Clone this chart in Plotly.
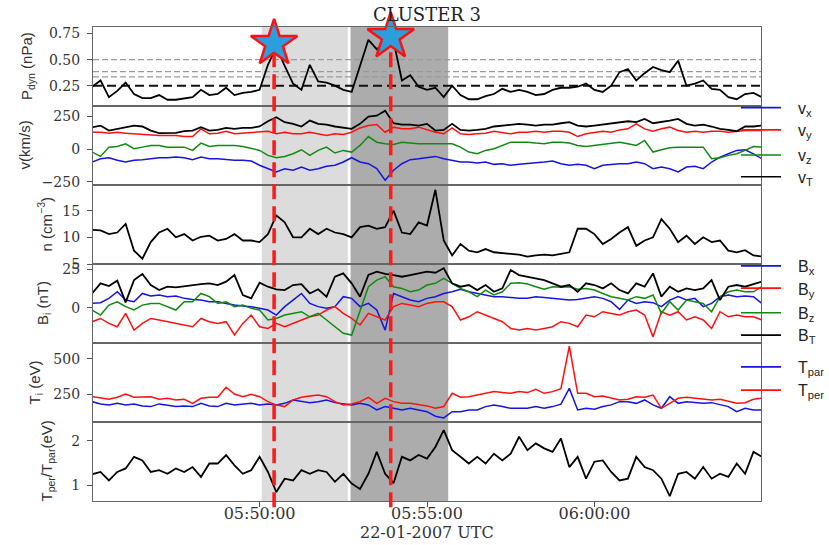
import pandas as pd
import plotly.graph_objects as go
from plotly.subplots import make_subplots

# ---------------- data (15 s samples from 05:45:00) ----------------
t = pd.date_range("2007-01-22 05:45:00", periods=81, freq="15s")

pdyn = [0.24, 0.30, 0.14, 0.20, 0.28, 0.17, 0.13, 0.13, 0.16, 0.115, 0.115, 0.13, 0.14, 0.21, 0.16, 0.17,
        0.23, 0.16, 0.18, 0.19, 0.21, 0.45, 0.62, 0.44, 0.27, 0.21, 0.45, 0.29, 0.28, 0.25, 0.21, 0.19,
        0.45, 0.69, 0.60, 0.66, 0.68, 0.30, 0.35, 0.24, 0.21, 0.23, 0.14, 0.25, 0.16, 0.12, 0.12, 0.15,
        0.17, 0.22, 0.19, 0.21, 0.19, 0.16, 0.17, 0.21, 0.23, 0.23, 0.24, 0.27, 0.21, 0.19, 0.25, 0.38,
        0.41, 0.30, 0.37, 0.43, 0.40, 0.38, 0.49, 0.25, 0.27, 0.30, 0.22, 0.21, 0.14, 0.12, 0.17, 0.18, 0.14]

vx = [-99, -74, -66, -86, -99, -86, -81, -74, -66, -66, -61, -66, -81, -61, -74, -74, -81, -86, -86, -91,
      -124, -150, -175, -150, -162, -137, -162, -150, -132, -124, -99, -66, -99, -112, -150, -239, -162, -112,
      -81, -74, -66, -56, -74, -86, -99, -99, -107, -99, -117, -112, -124, -117, -112, -107, -99, -91, -112,
      -124, -117, -124, -150, -124, -117, -112, -112, -99, -112, -150, -137, -150, -175, -137, -132, -150,
      -99, -61, -36, -10, -5, -36, -74]
vy = [129, 129, 122, 129, 122, 117, 117, 112, 104, 104, 104, 96, 96, 155, 117, 122, 137, 117, 122, 129,
      129, 137, 117, 129, 117, 117, 129, 117, 104, 117, 112, 129, 162, 180, 188, 129, 168, 155,
      155, 168, 147, 129, 117, 162, 117, 112, 117, 122, 137, 129, 117, 129, 129, 137, 129, 137, 137, 129,
      96, 117, 129, 137, 129, 147, 155, 193, 155, 137, 155, 168, 142, 129, 137, 129, 137, 137, 129, 137,
      142, 142, 142]
vz = [-23, -56, 15, 20, 41, 3, 15, 28, 28, 15, 15, 15, -10, 46, 20, 28, 28, 28, 20, 3, -10, -48, -66, -56,
      -36, -5, -48, -10, 15, -30, -10, -23, 28, 96, 53, 41, 36, 53,
      46, 41, 41, 41, 41, 41, 15, -23, -36, -10, 3, 28, 53, 53, 53, 46, 41, 53, 53, 46, 28, 20, 28, 41, 46,
      53, 41, 28, 66, -23, -5, 10, 15, 15, 20, 15, -74, -66, -48, -36, -10, 20, 15]
vt = [167, 180, 142, 155, 167, 180, 173, 142, 122, 122, 124, 137, 142, 167, 142, 147, 162, 155, 162, 162,
      173, 213, 244, 206, 193, 173, 218, 193, 188, 173, 162, 155, 193, 249, 256, 294, 198, 188,
      188, 180, 193, 142, 147, 193, 147, 142, 147, 155, 173, 180, 188, 193, 188, 180, 188, 188, 198, 206,
      180, 173, 180, 188, 193, 206, 213, 206, 231, 198, 206, 218, 231, 193, 180, 188, 173, 155, 147, 137,
      173, 173, 180]

dens = [11.4, 11.3, 10.6, 10.9, 12.5, 7.5, 6.0, 9.1, 10.9, 11.6, 10.0, 10.6, 9.4, 10.1, 10.3, 9.4, 9.7,
        10.6, 9.4, 9.4, 9.1, 10.6, 14.1, 12.8, 10.0, 10.0, 11.6, 10.6, 11.6, 10.9, 10.6, 10.0, 11.9, 12.2,
        11.6, 11.9, 15.0, 10.9,
        10.6, 12.8, 12.2, 18.9, 9.4, 6.6, 8.75, 7.5, 7.2, 7.8, 7.2, 7.0, 6.9, 6.75, 6.4, 6.6, 6.75, 6.6,
        6.9, 7.2, 11.6, 11.6, 10.6, 8.75, 9.7, 10.9, 11.9, 8.4, 9.4, 10.0, 13.4, 11.6, 9.1, 10.3, 8.75,
        10.0, 9.1, 9.4, 7.5, 7.2, 7.6, 6.6, 6.4]

bx = [2.8, 3.3, 6.1, 10.4, 5.0, 3.9, 9.3, 7.6, 8.3, 7.2, 7.6, 6.1, 5.4, 5.0, 3.9, 3.9, 2.8, 1.7, 1.1, 0.7,
      -0.4, -1.5, -4.8, 0.7, 5.0, 9.3, 2.8, 0.7, -0.4, 0.7, 7.2, 6.1, 0.7, 2.8, -1.5, -14.6, 9.3, 7.2,
      5.0, 3.9, 6.1, 7.2, 9.3, 10.4, 12.0, 10.4, 9.3, 8.3, 7.2, 7.2, 6.7, 6.1, 6.1, 7.2, 6.7, 6.1, 5.4,
      5.0, 5.4, 6.1, 7.2, 6.1, 3.9, -1.1, 5.0, 2.8, 3.9, 3.3, 0.7, 5.0, 7.2, 5.0, 6.1, 0.7, 2.8, 7.2, 8.3,
      7.2, 7.6, 7.2, 2.8]
by = [-9.1, -7.0, -10.2, -12.4, -3.7, -14.6, -10.2, -7.0, -8.0, -9.1, -10.2, -11.3, -12.4, -7.0, -9.1,
      -10.2, -9.1, -17.8, -10.2, -4.8, -12.4, -13.5, -10.2, -12.4, -10.2, -8.0, -5.9, -4.8, -1.5, 0.7,
      -3.7, -7.0, -11.3, -3.7, -5.9, -8.0, 0.7, 2.8,
      1.7, 0.7, 2.8, 3.9, 3.9, 0.7, -8.0, -5.9, -2.6, -4.8, -7.0, -9.1, -13.5, -14.6, -13.5, -14.6, -13.5,
      -12.4, -9.1, -10.2, -12.4, -4.8, -5.9, -2.6, -3.7, -4.8, -2.6, -1.5, -4.8, -19.0, -2.6, -4.8, -2.6,
      -8.0, -5.9, -8.0, -13.5, -2.6, -5.9, -4.8, -5.9, -5.9, -8.0]
bz = [-1.5, -4.8, 1.7, 3.9, 0.7, -1.5, 1.7, 2.8, 2.8, 0.7, -1.5, 3.9, 3.9, 9.3, 7.2, 2.8, 3.9, 0.7, 1.7,
      -0.4, -1.5, -8.0, -7.0, -4.8, -3.7, -2.6, -5.9, -3.7, -8.0, -12.4, -16.7, -17.8, -1.5, 13.7, 18.0,
      20.2, 13.7, 12.6,
      10.4, 11.5, 14.8, 15.9, 19.1, 15.9, 12.6, 10.4, 7.2, 11.5, 8.3, 10.4, 15.9, 16.3, 15.4, 13.7, 12.0,
      13.7, 13.3, 13.7, 12.0, 12.6, 11.5, 9.3, 7.2, 6.1, 5.0, 7.2, 6.1, 8.3, -3.7, 3.9, -1.5, 5.0, 3.9,
      2.8, -2.6, 7.2, 10.4, 11.5, 10.4, 10.4, 13.7]
bt = [9.3, 15.9, 14.1, 17.6, 3.5, 18.0, 22.0, 14.8, 11.5, 13.7, 13.3, 14.1, 14.8, 15.4, 15.9, 14.8, 17.0,
      21.3, 8.3, 6.1, 16.3, 13.7, 12.0, 11.5, 14.8, 15.4, 9.3, 12.0, 7.2, 20.2, 22.4, 15.9, 7.2, 21.3,
      23.5, 22.0, 21.3, 20.2,
      21.3, 22.4, 23.5, 22.8, 25.7, 15.9, 13.7, 14.8, 11.5, 14.8, 10.4, 12.6, 24.6, 21.3, 20.2, 19.1, 18.0,
      15.9, 13.7, 14.8, 10.4, 15.9, 14.8, 12.6, 15.9, 11.5, 9.3, 15.9, 13.7, 22.4, 7.2, 13.7, 10.4, 12.6,
      11.5, 12.6, 18.0, 5.0, 13.7, 14.8, 13.7, 15.4, 17.0]

tpar = [198, 182, 175, 186, 175, 182, 168, 163, 182, 175, 163, 168, 163, 186, 168, 163, 186, 175, 182,
        186, 175, 182, 175, 186, 210, 198, 191, 198, 210, 191, 182, 175, 186, 175, 139, 163, 151, 139,
        151, 139, 127, 95, 83, 127, 127, 139, 139, 163, 175, 163, 151, 151, 151, 163, 151, 163, 180, 292,
        139, 151, 144, 163, 175, 198, 198, 186, 210, 175, 151, 233, 186, 198, 191, 186, 191, 175, 163,
        127, 151, 139, 139]
tper = [233, 222, 215, 229, 252, 229, 233, 233, 215, 222, 210, 215, 186, 222, 229, 229, 300, 252, 233,
        250, 233, 198, 175, 163, 210, 229, 238, 245, 233, 198, 175, 182, 198, 229, 186, 222, 198, 186,
        186, 175, 168, 151, 163, 257, 229, 233, 245, 257, 269, 262, 257, 269, 262, 285, 257, 269, 290, 590,
        257, 257, 233, 238, 222, 210, 215, 233, 229, 245, 151, 186, 222, 229, 222, 215, 210, 215, 198,
        186, 191, 215, 222]

ratio = [1.25, 1.30, 1.11, 1.30, 1.38, 1.64, 1.56, 1.30, 1.34, 1.26, 1.38, 1.30, 1.41, 1.19, 1.49, 1.49,
         1.68, 1.45, 1.26, 1.34, 1.64, 1.30, 0.85, 1.15, 1.11, 1.34, 1.26, 1.34, 1.30, 1.08, 1.26, 1.04,
         0.92, 1.26, 1.75, 1.26, 1.05, 1.64,
         1.56, 1.68, 1.60, 1.86, 2.24, 1.79, 1.64, 1.49, 1.64, 1.49, 1.71, 1.56, 1.71, 2.09, 1.79, 1.94,
         1.83, 1.75, 2.05, 1.41, 1.64, 1.15, 1.53, 1.56, 1.30, 1.11, 1.15, 1.64, 1.41, 1.34, 1.15, 0.76,
         1.26, 1.30, 1.15, 1.41, 1.15, 1.26, 1.19, 1.49, 1.26, 1.75, 1.64]

x_range = ["2007-01-22 05:45:01.5", "2007-01-22 06:04:58.5"]
event_times = ["2007-01-22 05:50:26", "2007-01-22 05:53:55"]
event_pdyn = [0.655, 0.72]
light_span = ["2007-01-22 05:50:04", "2007-01-22 05:52:38"]
dark_span = ["2007-01-22 05:52:43", "2007-01-22 05:55:38"]
pdyn_gray_levels = [0.5, 0.385, 0.335]
pdyn_black_level = 0.25
xtick_vals = ["2007-01-22 05:50:00", "2007-01-22 05:55:00", "2007-01-22 06:00:00"]
xtick_text = ["05:50:00", "05:55:00", "06:00:00"]

BLUE, RED, GREEN, BLACK = "#1515e0", "#ff1010", "#108a10", "#000000"

# ---------------- figure ----------------
fig = make_subplots(rows=6, cols=1, shared_xaxes=True, vertical_spacing=0)

def line(y, color, row, width=1.5):
    fig.add_trace(go.Scatter(x=t, y=y, mode="lines", line=dict(color=color, width=width),
                             showlegend=False, hoverinfo="skip"), row=row, col=1)

line(pdyn, BLACK, 1, 1.8)
fig.add_trace(go.Scatter(x=event_times, y=event_pdyn, mode="markers", cliponaxis=False,
                         marker=dict(symbol="star", size=35, color="#2a9fdc",
                                     line=dict(color=RED, width=2.5)),
                         showlegend=False, hoverinfo="skip"), row=1, col=1)
for s, c in [(vx, BLUE), (vy, RED), (vz, GREEN)]:
    line(s, c, 2)
line(vt, BLACK, 2, 1.8)
line(dens, BLACK, 3, 1.8)
for s, c in [(bx, BLUE), (by, RED), (bz, GREEN)]:
    line(s, c, 4)
line(bt, BLACK, 4, 1.8)
line(tpar, BLUE, 5)
line(tper, RED, 5)
line(ratio, BLACK, 6, 1.8)

# shaded intervals
fig.add_shape(type="rect", xref="x", yref="paper", x0=light_span[0], x1=light_span[1], y0=0, y1=1,
              fillcolor="#dcdcdc", line=dict(width=0), layer="below")
fig.add_shape(type="rect", xref="x", yref="paper", x0=dark_span[0], x1=dark_span[1], y0=0, y1=1,
              fillcolor="#acacac", line=dict(width=0), layer="below")

# reference levels in the Pdyn panel
for lv in pdyn_gray_levels:
    fig.add_shape(type="line", xref="x domain", yref="y", x0=0, x1=1, y0=lv, y1=lv,
                  line=dict(color="#9a9a9a", width=1.3, dash="6px,3px"), layer="below")
fig.add_shape(type="line", xref="x domain", yref="y", x0=0, x1=1, y0=pdyn_black_level,
              y1=pdyn_black_level, line=dict(color="#111111", width=2, dash="9px,5px"), layer="below")

# red event lines
for et in event_times:
    fig.add_shape(type="line", xref="x", yref="paper", x0=et, x1=et, y0=-0.013, y1=0.951,
                  line=dict(color="#ff1a1a", width=3.5, dash="15px,7px"), layer="above")

# axes
tickfont = dict(family="DejaVu Serif", size=14, color="#333")
titlefont = dict(family="Liberation Sans", size=15, color="#333")
yspecs = [
    ("P<sub>dyn</sub> (nPa)", [0.055, 0.813], [0.25, 0.5, 0.75], ["0.25", "0.50", "0.75"], 27.5),
    ("v(km/s)", [-275, 330], [-250, 0, 250], ["\u2212250", "0", "250"], 24),
    ("n (cm<sup>\u22123</sup>)", [5.0, 19.8], [5, 10, 15], ["5", "10", "15"], 45),
    ("B<sub>i</sub> (nT)", [-23, 28.5], [0, 25], ["0", "25"], 43.5),
    ("T<sub>i</sub> (eV)", [54, 613], [250, 500], ["250", "500"], 35),
    ("T<sub>per</sub>/T<sub>par</sub>(eV)", [0.65, 2.42], [1, 2], ["1", "2"], 47),
]
plot_left, plot_w, plot_bottom, plot_h = 93, 668, 501, 474
for i, (title, rng, tv, tt, tx) in enumerate(yspecs, start=1):
    fig.update_yaxes(row=i, col=1, range=rng, tickvals=tv, ticktext=tt, showgrid=False, zeroline=False,
                     showline=True, mirror=True, linecolor="#666", linewidth=1.2, ticks="outside",
                     ticklen=5, tickcolor="#555", tickfont=tickfont, ticklabelstandoff=4,
                     automargin=False)
    fig.add_annotation(xref="paper", yref="paper", x=(tx - plot_left) / plot_w, y=1 - (i - 0.5) / 6,
                       text=title, textangle=-90, showarrow=False, xanchor="center", yanchor="middle",
                       font=titlefont)
for i in range(1, 7):
    fig.update_xaxes(row=i, col=1, range=x_range, showgrid=False, zeroline=False, showline=True,
                     mirror=True, linecolor="#666", linewidth=1.2, ticks="", automargin=False)
fig.update_xaxes(row=6, col=1, tickvals=xtick_vals, ticktext=xtick_text, ticks="outside", ticklen=5,
                 tickcolor="#555", tickfont=dict(family="DejaVu Serif", size=16, color="#333"),
                 ticklabelstandoff=-7)
fig.add_annotation(xref="paper", yref="paper", x=0.5, y=(plot_bottom - 532) / plot_h,
                   text="22-01-2007 UTC", showarrow=False, xanchor="center", yanchor="middle",
                   font=dict(family="DejaVu Serif", size=16, color="#333"))

# legends drawn at the right edge
legend_items = [("v<sub>x</sub>", BLUE, 0.830), ("v<sub>y</sub>", RED, 0.783), ("v<sub>z</sub>", GREEN, 0.730),
                ("v<sub>T</sub>", BLACK, 0.684), ("B<sub>x</sub>", BLUE, 0.496), ("B<sub>y</sub>", RED, 0.449),
                ("B<sub>z</sub>", GREEN, 0.397), ("B<sub>T</sub>", BLACK, 0.350),
                ("T<sub>par</sub>", BLUE, 0.283), ("T<sub>per</sub>", RED, 0.234)]
for txt, col, yy in legend_items:
    fig.add_shape(type="line", xref="paper", yref="paper", x0=0.970, x1=1.030, y0=yy, y1=yy,
                  line=dict(color=col, width=1.6), layer="above")
    fig.add_annotation(xref="paper", yref="paper", x=1.052, y=yy - 0.004, text=txt, showarrow=False,
                       xanchor="left", yanchor="middle",
                       font=dict(family="Liberation Sans", size=16, color="#222"))

fig.update_layout(
    width=829, height=545, margin=dict(l=93, r=68, t=27, b=44, autoexpand=False),
    paper_bgcolor="white", plot_bgcolor="rgba(0,0,0,0)", showlegend=False,
    title=dict(text="CLUSTER 3", x=0.5, xref="paper", y=1 - 15 / 545, yref="container",
               xanchor="center", yanchor="middle",
               font=dict(family="DejaVu Serif", size=18, color="#222")),
)

fig.write_html("out.html")
